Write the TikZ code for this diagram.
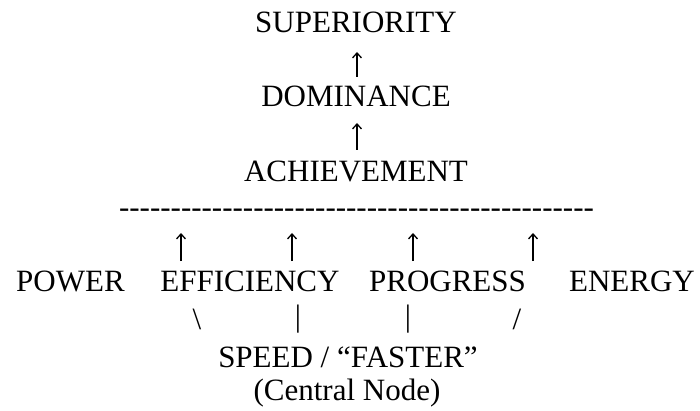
\documentclass[tikz,border=0pt]{standalone}
\usepackage{fontspec}
\setmainfont{Liberation Serif}
\usetikzlibrary{arrows.meta}
\newcommand{\hyph}{\mbox{-}}
\begin{document}
\begin{tikzpicture}[x=1pt,y=-1pt,
  lbl/.style={anchor=base,inner sep=0pt,font=\fontsize{31}{36}\selectfont},
  glyph/.style={anchor=center,inner sep=0pt,font=\fontsize{31}{36}\selectfont},
  uparrow/.style={line width=1.3pt,-{Straight Barb[length=5pt,width=9pt,line width=1.3pt]}}]
\useasboundingbox[fill=white] (0,0) rectangle (700,411);
% upper chain
\node[lbl] (sup) at (356,33) {SUPERIORITY};
\node[lbl] (dom) at (356,107) {DOMINANCE};
\node[lbl] (ach) at (356,182) {ACHIEVEMENT};
\coordinate (a1b) at (357,77); \coordinate (a1t) at (357,52);
\coordinate (a2b) at (357,150); \coordinate (a2t) at (357,123);
\draw[uparrow] (a1b) -- (a1t);
\draw[uparrow] (a2b) -- (a2t);
\node[lbl] (dash) at (356.5,218) {\hyph\hyph\hyph\hyph\hyph\hyph\hyph\hyph\hyph\hyph\hyph\hyph\hyph\hyph\hyph\hyph\hyph\hyph\hyph\hyph\hyph\hyph\hyph\hyph\hyph\hyph\hyph\hyph\hyph\hyph\hyph\hyph\hyph\hyph\hyph\hyph\hyph\hyph\hyph\hyph\hyph\hyph\hyph\hyph\hyph\hyph};
% arrows row
\foreach \n/\x in {u1/181,u2/292,u3/413,u4/533}{
  \coordinate (\n b) at (\x,261); \coordinate (\n t) at (\x,233);
  \draw[uparrow] (\n b) -- (\n t);
}
% words row
\node[lbl] (pow) at (70.5,291) {POWER};
\node[lbl] (eff) at (250,291) {EFFICIENCY};
\node[lbl] (pro) at (447.5,291) {PROGRESS};
\node[lbl] (ene) at (632,291) {ENERGY};
% connectors row
\node[glyph] (s1) at (197,319) {\textbackslash};
\node[glyph] (s2) at (298,319) {|};
\node[glyph] (s3) at (408,319) {|};
\node[glyph] (s4) at (517,319) {/};
% central node
\node[lbl] (spd) at (348,367) {SPEED / “FASTER”};
\node[lbl] (cen) at (347,400) {(Central Node)};
\end{tikzpicture}
\end{document}
